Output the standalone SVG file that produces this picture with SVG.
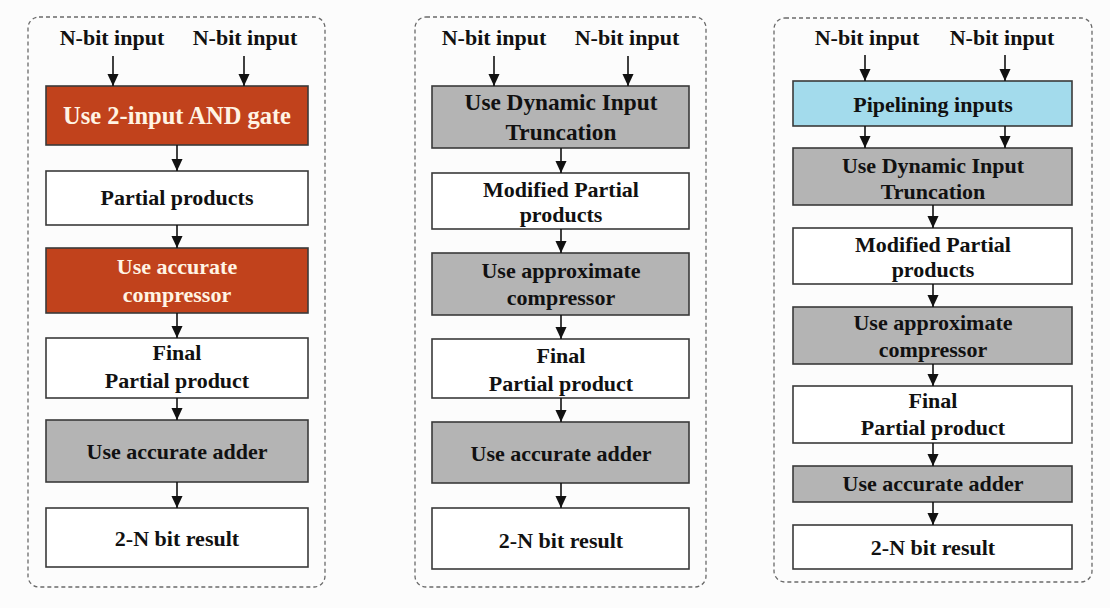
<svg xmlns="http://www.w3.org/2000/svg" width="1110" height="608" viewBox="0 0 1110 608">
  <defs>
    <marker id="arrow" markerUnits="userSpaceOnUse" markerWidth="12" markerHeight="12" viewBox="0 0 13 12" refX="13" refY="6" orient="auto">
      <path d="M0,0 L13,6 L0,12 z" fill="#111"/>
    </marker>
    <style>
      .panel { fill: none; stroke: #6a6a6a; stroke-width: 1.3; stroke-dasharray: 4 3; }
      .box { stroke: #3a3a3a; stroke-width: 1.6; }
      .white { fill: #ffffff; }
      .red { fill: #c1421c; }
      .gray { fill: #b4b4b4; }
      .blue { fill: #a3dbec; }
      .t { font-family: "Liberation Serif", "Times New Roman", serif; font-weight: bold; font-size: 22px; fill: #111; text-anchor: middle; }
      .big { font-size: 24.5px; }
      .mid { font-size: 23.3px; }
      .tw { fill: #fff4e4; }
      .conn line { stroke: #111; stroke-width: 1.6; marker-end: url(#arrow); }
    </style>
  </defs>

  <rect x="0" y="0" width="1110" height="608" fill="#fcfcfc"/>

  <!-- panel outlines -->
  <rect class="panel" x="28" y="17" width="297" height="570" rx="11"/>
  <rect class="panel" x="415" y="17" width="291" height="570" rx="11"/>
  <rect class="panel" x="774" y="18" width="318" height="564" rx="11"/>

  <!-- input labels -->
  <g id="inputs">
    <text class="t" x="112" y="45">N-bit input</text>
    <text class="t" x="245" y="45">N-bit input</text>
    <text class="t" x="494" y="45">N-bit input</text>
    <text class="t" x="627" y="45">N-bit input</text>
    <text class="t" x="867" y="45">N-bit input</text>
    <text class="t" x="1002" y="45">N-bit input</text>
  </g>

  <!-- left flow: accurate multiplier -->
  <g id="a1">
    <rect class="box red" x="46" y="86" width="262" height="59"/>
    <text class="t tw big" x="177" y="124">Use 2-input AND gate</text>
  </g>
  <g id="a2">
    <rect class="box white" x="46" y="171" width="262" height="54"/>
    <text class="t" x="177" y="205">Partial products</text>
  </g>
  <g id="a3">
    <rect class="box red" x="46" y="248" width="262" height="65"/>
    <text class="t tw" x="177" y="274">Use accurate</text>
    <text class="t tw" x="177" y="302">compressor</text>
  </g>
  <g id="a4">
    <rect class="box white" x="46" y="338" width="262" height="60"/>
    <text class="t" x="177" y="360">Final</text>
    <text class="t" x="177" y="388">Partial product</text>
  </g>
  <g id="a5">
    <rect class="box gray" x="46" y="420" width="262" height="62"/>
    <text class="t" x="177" y="459">Use accurate adder</text>
  </g>
  <g id="a6">
    <rect class="box white" x="46" y="508" width="262" height="59"/>
    <text class="t" x="177" y="546">2-N bit result</text>
  </g>

  <!-- middle flow: dynamic truncation -->
  <g id="b1">
    <rect class="box gray" x="432" y="86" width="257" height="62"/>
    <text class="t mid" x="561" y="110">Use Dynamic Input</text>
    <text class="t mid" x="561" y="140">Truncation</text>
  </g>
  <g id="b2">
    <rect class="box white" x="432" y="173" width="257" height="56"/>
    <text class="t" x="561" y="197">Modified Partial</text>
    <text class="t" x="561" y="222">products</text>
  </g>
  <g id="b3">
    <rect class="box gray" x="432" y="253" width="257" height="62"/>
    <text class="t" x="561" y="278">Use approximate</text>
    <text class="t" x="561" y="305">compressor</text>
  </g>
  <g id="b4">
    <rect class="box white" x="432" y="339" width="257" height="59"/>
    <text class="t" x="561" y="363">Final</text>
    <text class="t" x="561" y="391">Partial product</text>
  </g>
  <g id="b5">
    <rect class="box gray" x="432" y="422" width="257" height="61"/>
    <text class="t" x="561" y="461">Use accurate adder</text>
  </g>
  <g id="b6">
    <rect class="box white" x="432" y="508" width="257" height="61"/>
    <text class="t" x="561" y="548">2-N bit result</text>
  </g>

  <!-- right flow: pipelined inputs -->
  <g id="c1">
    <rect class="box blue" x="793" y="81" width="279" height="45"/>
    <text class="t" x="933" y="112">Pipelining inputs</text>
  </g>
  <g id="c2">
    <rect class="box gray" x="793" y="148" width="279" height="57"/>
    <text class="t" x="933" y="173">Use Dynamic Input</text>
    <text class="t" x="933" y="199">Truncation</text>
  </g>
  <g id="c3">
    <rect class="box white" x="793" y="228" width="279" height="56"/>
    <text class="t" x="933" y="252">Modified Partial</text>
    <text class="t" x="933" y="277">products</text>
  </g>
  <g id="c4">
    <rect class="box gray" x="793" y="307" width="279" height="57"/>
    <text class="t" x="933" y="330">Use approximate</text>
    <text class="t" x="933" y="357">compressor</text>
  </g>
  <g id="c5">
    <rect class="box white" x="793" y="386" width="279" height="57"/>
    <text class="t" x="933" y="408">Final</text>
    <text class="t" x="933" y="435">Partial product</text>
  </g>
  <g id="c6">
    <rect class="box gray" x="793" y="466" width="279" height="36"/>
    <text class="t" x="933" y="491">Use accurate adder</text>
  </g>
  <g id="c7">
    <rect class="box white" x="793" y="525" width="279" height="44"/>
    <text class="t" x="933" y="555">2-N bit result</text>
  </g>

  <!-- connectors -->
  <g class="conn" id="connectors">
    <line x1="113" y1="56" x2="113" y2="86"/>
    <line x1="244" y1="56" x2="244" y2="86"/>
    <line x1="177" y1="145" x2="177" y2="171"/>
    <line x1="177" y1="225" x2="177" y2="248"/>
    <line x1="177" y1="313" x2="177" y2="338"/>
    <line x1="177" y1="398" x2="177" y2="420"/>
    <line x1="177" y1="482" x2="177" y2="508"/>

    <line x1="494" y1="56" x2="494" y2="86"/>
    <line x1="628" y1="56" x2="628" y2="86"/>
    <line x1="561" y1="148" x2="561" y2="173"/>
    <line x1="561" y1="229" x2="561" y2="253"/>
    <line x1="561" y1="315" x2="561" y2="339"/>
    <line x1="561" y1="398" x2="561" y2="422"/>
    <line x1="561" y1="483" x2="561" y2="508"/>

    <line x1="865" y1="55" x2="865" y2="81"/>
    <line x1="1005" y1="55" x2="1005" y2="81"/>
    <line x1="865" y1="126" x2="865" y2="148"/>
    <line x1="1005" y1="126" x2="1005" y2="148"/>
    <line x1="933" y1="205" x2="933" y2="228"/>
    <line x1="933" y1="284" x2="933" y2="307"/>
    <line x1="933" y1="364" x2="933" y2="386"/>
    <line x1="933" y1="443" x2="933" y2="466"/>
    <line x1="933" y1="502" x2="933" y2="525"/>
  </g>
</svg>
